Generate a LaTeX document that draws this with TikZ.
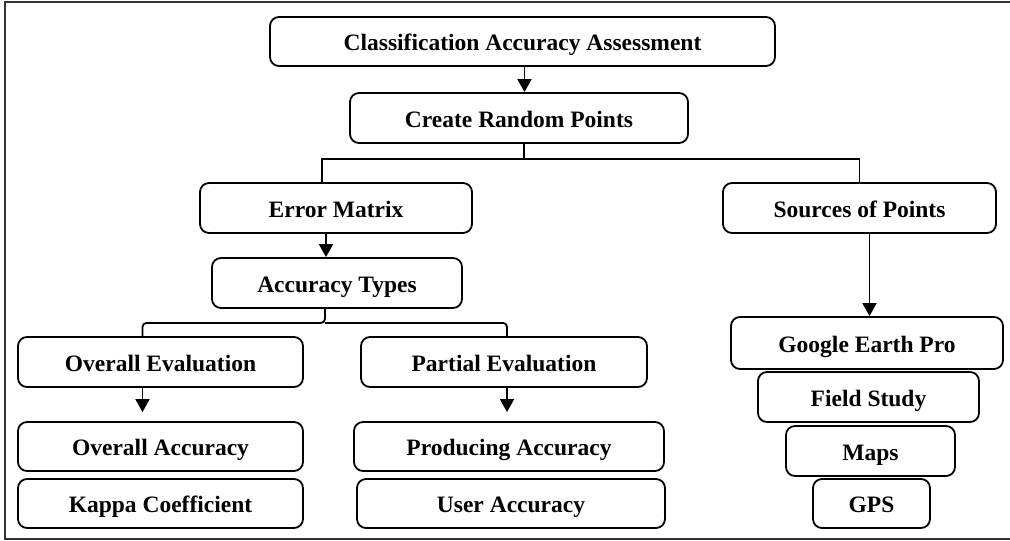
\documentclass[tikz,border=0pt]{standalone}
\usepackage{fontspec}
\setmainfont{Liberation Serif}
\usetikzlibrary{arrows.meta, calc}

\begin{document}
\begin{tikzpicture}[
    x=1pt, y=-1pt,
    every node/.style={font=\fontsize{23.5}{28}\selectfont\bfseries},
    box/.style={draw, line width=1.8pt, rounded corners=9pt, inner sep=0pt, minimum height=50pt, text height=20pt, text depth=1.5pt},
    link/.style={line width=1.8pt},
    arrow/.style={link, -{Triangle[length=13pt,width=14pt]}},
]
\useasboundingbox (0,0) rectangle (1010,541);
% outer frame, open on the right
\draw[gray!40!black, line width=1.6pt] (1015,2) -- (5,2) -- (5,539) -- (1015,539);
% top of the tree
\node[box, minimum width=505pt, minimum height=49pt] (title) at (522.5,41.5) {Classification Accuracy Assessment};
\node[box, minimum width=338pt] (random) at (519,118) {Create Random Points};
\node[box, minimum width=272pt] (error) at (336,208) {Error Matrix};
\node[box, minimum width=273pt] (sources) at (859.5,208) {Sources of Points};
\node[box, minimum width=250pt] (types) at (337,283) {Accuracy Types};
% evaluation branch
\node[box, minimum width=285pt] (oeval) at (160.5,362) {Overall Evaluation};
\node[box, minimum width=286pt] (peval) at (504,362) {Partial Evaluation};
\node[box, minimum width=285pt, minimum height=49pt] (oacc) at (160.5,446.5) {Overall Accuracy};
\node[box, minimum width=285pt, minimum height=49pt] (kappa) at (160.5,503.5) {Kappa Coefficient};
\node[box, minimum width=310pt, minimum height=49pt] (prod) at (509,446.5) {Producing Accuracy};
\node[box, minimum width=308pt, minimum height=49pt] (user) at (511,503.5) {User Accuracy};
% sources branch, narrowing down
\node[box, minimum width=272pt, minimum height=52pt] (google) at (867,343) {Google Earth Pro};
\node[box, minimum width=221pt] (field) at (868.5,397) {Field Study};
\node[box, minimum width=169pt] (maps) at (870.5,451) {Maps};
\node[box, minimum width=117pt, minimum height=49pt] (gps) at (871.5,503.5) {GPS};
% where the connectors leave and meet the boxes
\coordinate (titleout) at ($(title.south)+(2,0)$);
\coordinate (randomout) at ($(random.south)+(5,0)$);
\coordinate (errorin) at ($(error.north)+(-14,0)$);
\coordinate (errorout) at ($(error.south)+(-10,0)$);
\coordinate (typesout) at ($(types.south)+(-12,0)$);
\coordinate (oevalin) at ($(oeval.north)+(-18,0)$);
\coordinate (oevalout) at ($(oeval.south)+(-18,0)$);
\coordinate (pevalin) at ($(peval.north)+(3,0)$);
\coordinate (pevalout) at ($(peval.south)+(3,0)$);
\coordinate (sourcesout) at ($(sources.south)+(10,0)$);
% connectors
\draw[arrow] (titleout) -- (titleout |- random.north);
\draw[link] (randomout) -- ++(0,15) coordinate (split) -| (errorin);
\draw[link] (split) -| (sources.north);
\draw[arrow] (errorout) -- (errorout |- types.north);
\draw[link, rounded corners=4pt] (typesout) -- ++(0,14) coordinate (brace) -| (oevalin);
\draw[link, rounded corners=4pt] (brace) -| (pevalin);
\draw[arrow, shorten >=9pt] (oevalout) -- (oevalout |- oacc.north);
\draw[arrow, shorten >=9pt] (pevalout) -- (pevalout |- prod.north);
\draw[arrow] (sourcesout) -- (sourcesout |- google.north);
\end{tikzpicture}
\end{document}
